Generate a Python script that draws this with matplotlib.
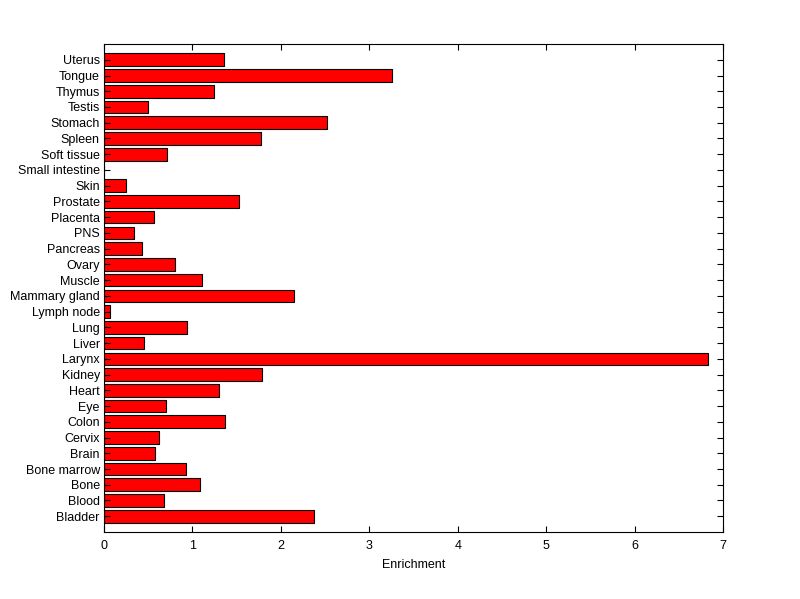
import matplotlib
matplotlib.use("Agg")
import matplotlib.pyplot as plt
import numpy as np

# tissues listed bottom to top, as on the y axis
tissues = [
    "Bladder", "Blood", "Bone", "Bone marrow", "Brain", "Cervix", "Colon",
    "Eye", "Heart", "Kidney", "Larynx", "Liver", "Lung", "Lymph node",
    "Mammary gland", "Muscle", "Ovary", "Pancreas", "PNS", "Placenta",
    "Prostate", "Skin", "Small intestine", "Soft tissue", "Spleen",
    "Stomach", "Testis", "Thymus", "Tongue", "Uterus",
]
enrichment = [
    2.37, 0.678, 1.086, 0.932, 0.577, 0.626, 1.372,
    0.70, 1.30, 1.787, 6.833, 0.452, 0.943, 0.063,
    2.145, 1.108, 0.803, 0.43, 0.339, 0.565,
    1.529, 0.249, 0.0, 0.712, 1.78,
    2.526, 0.498, 1.244, 3.252, 1.357,
]

plt.rcParams["font.family"] = ["Liberation Sans", "DejaVu Sans"]
plt.rcParams["font.size"] = 9

fig = plt.figure(figsize=(8.0, 5.99), dpi=100)
ax = fig.add_axes([0.13, 0.1119, 0.774, 0.8146])

pos = np.arange(1, len(tissues) + 1)
ax.barh(pos, enrichment, height=0.8, color="#ff0000", edgecolor="black",
        linewidth=0.8, zorder=2)

ax.set_xlim(0, 7)
ax.set_ylim(0, len(tissues) + 1)
ax.set_xticks(range(0, 8))
ax.set_yticks(pos)
ax.set_yticklabels(tissues)
ax.set_xlabel("Enrichment", labelpad=5)

for side in ax.spines.values():
    side.set_linewidth(0.8)
ax.tick_params(direction="in", length=4, width=0.8, top=True, right=True)
ax.tick_params(axis="x", pad=6)
ax.tick_params(axis="y", pad=3)
ax.set_axisbelow(False)

fig.savefig("out.png", dpi=100)
